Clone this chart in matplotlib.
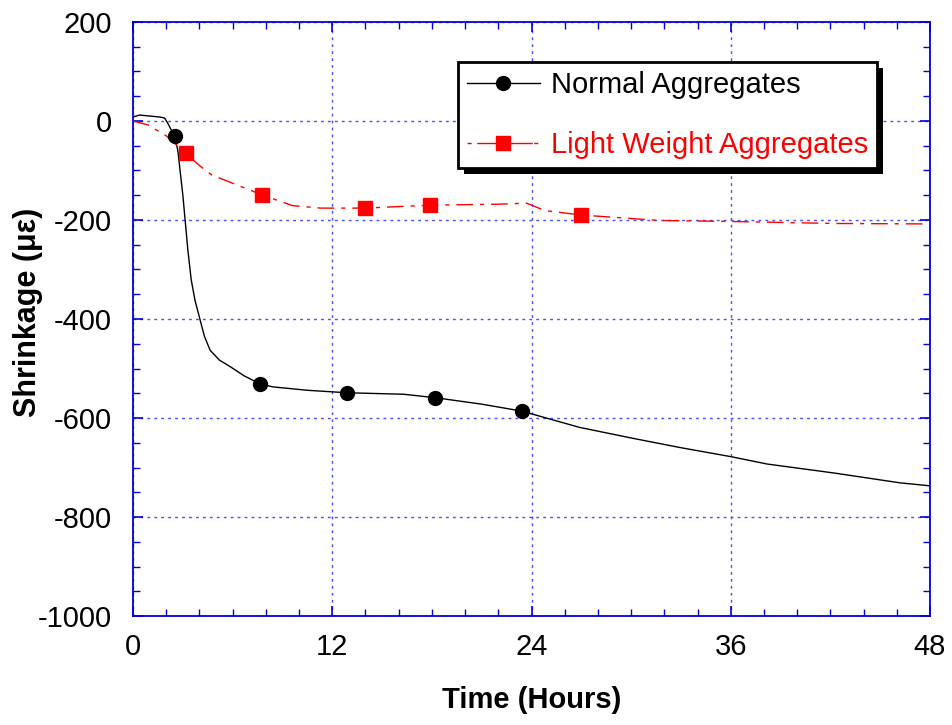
import matplotlib
matplotlib.use("Agg")
import matplotlib.pyplot as plt
from matplotlib.lines import Line2D
from matplotlib.patches import Rectangle
from matplotlib.ticker import MultipleLocator

plt.rcParams['font.family'] = ['Liberation Sans', 'DejaVu Sans']
plt.rcParams['axes.unicode_minus'] = False

# Normal aggregates: continuous trace (hours, microstrain)
normal_t = [0.0, 0.4, 1.0, 1.6, 1.9, 2.1, 2.3, 2.5, 2.7, 3.0, 3.3, 3.5, 3.73,
            4.04, 4.3, 4.64, 5.2, 5.84, 6.7, 7.65, 8.4, 10.5, 12.9, 16.3,
            18.2, 21.0, 23.4, 26.9, 30.1, 33.0, 36.0, 38.2, 42.2, 46.2, 48.0]
normal_s = [8, 12, 10, 8, 6, -5, -18, -30, -60, -150, -260, -320, -362,
            -402, -435, -463, -483, -496, -515, -531, -537, -544, -549, -552,
            -559, -572, -586, -619, -641, -660, -678, -693, -711, -731, -737]
# Normal aggregates: marked readings
normal_mt = [2.5, 7.65, 12.9, 18.2, 23.4]
normal_ms = [-30, -531, -549, -559, -586]

# Light weight aggregates: continuous trace
light_t = [0.0, 0.9, 2.0, 3.17, 4.0, 4.74, 6.24, 7.75, 9.6, 11.3, 14.0, 17.9,
           22.1, 23.7, 24.8, 27.0, 31.7, 36.0, 42.2, 48.0]
light_s = [0, -8, -30, -65, -90, -109, -129, -149, -171, -176, -176, -170,
           -168, -166, -181, -190, -201, -203, -207, -208]
# Light weight aggregates: marked readings
light_mt = [3.17, 7.75, 14.0, 17.9, 27.0]
light_ms = [-65, -149, -176, -170, -190]

x_ticks = [0, 12, 24, 36, 48]
y_ticks = [200, 0, -200, -400, -600, -800, -1000]

axis_blue = '#0000dd'
grid_blue = '#4b4bff'

fig = plt.figure(figsize=(9.53, 7.25), dpi=100)
ax = fig.add_axes([0.1396, 0.1503, 0.8363, 0.8194])

ax.plot(normal_t, normal_s, color='black', lw=1.0, zorder=3)
ax.plot(normal_mt, normal_ms, ls='none', marker='o', ms=10,
        color='black', zorder=4)
ax.plot(light_t, light_s, color='red', lw=1.0,
        linestyle=(0, (12, 5, 3, 5)), zorder=3)
ax.plot(light_mt, light_ms, ls='none', marker='s', ms=10,
        color='red', zorder=4)

ax.set_xlim(0, 48)
ax.set_ylim(-1000, 200)
ax.set_xticks(x_ticks)
ax.set_yticks(y_ticks)
ax.xaxis.set_minor_locator(MultipleLocator(2))
ax.yaxis.set_minor_locator(MultipleLocator(50))

ax.grid(True, which='major', color=grid_blue, linestyle=(0, (2, 3)), lw=1.0)
ax.set_axisbelow(True)
for sp in ax.spines.values():
    sp.set_color(axis_blue)
    sp.set_linewidth(1.3)

ax.tick_params(which='both', direction='in', top=True, right=True,
               color=axis_blue, labelsize=21, labelcolor='black')
ax.tick_params(axis='y', which='major', length=7, width=1.2, pad=15)
ax.tick_params(axis='x', which='major', length=7, width=1.2, pad=12)
ax.tick_params(which='minor', length=5, width=1.0)

ax.set_xlabel('Time (Hours)', fontsize=21, fontweight='bold', labelpad=18)
fig.text(28 / 953, 1 - 312 / 725, 'Shrinkage (με)', rotation=90,
         ha='center', va='center', fontsize=22, fontweight='bold')

handles = [
    Line2D([], [], color='black', lw=1.0, marker='o', ms=10),
    Line2D([], [], color='red', lw=1.0, marker='s', ms=10,
           linestyle=(0, (3, 4, 40, 1))),
]
leg = ax.legend(handles, ['Normal Aggregates', 'Light Weight Aggregates'],
                loc='upper left', bbox_to_anchor=(458 / 953, 1 - 62 / 725),
                bbox_transform=fig.transFigure, fontsize=21, handlelength=2.5,
                handletextpad=0.4, labelspacing=1.1, borderpad=0.3,
                frameon=True, fancybox=False, framealpha=1, borderaxespad=0)
leg.get_frame().set_edgecolor('black')
leg.get_frame().set_linewidth(2.0)
leg.set_zorder(10)
for txt, col in zip(leg.get_texts(), ['black', 'red']):
    txt.set_color(col)

# Solid drop shadow behind the legend box
fig.canvas.draw()
bb = leg.get_window_extent()
shadow = Rectangle((bb.x0 + 6, bb.y0 - 6), bb.width, bb.height,
                   transform=None, facecolor='black', edgecolor='none',
                   zorder=9)
ax.add_artist(shadow)

fig.savefig('out.png', dpi=100)
